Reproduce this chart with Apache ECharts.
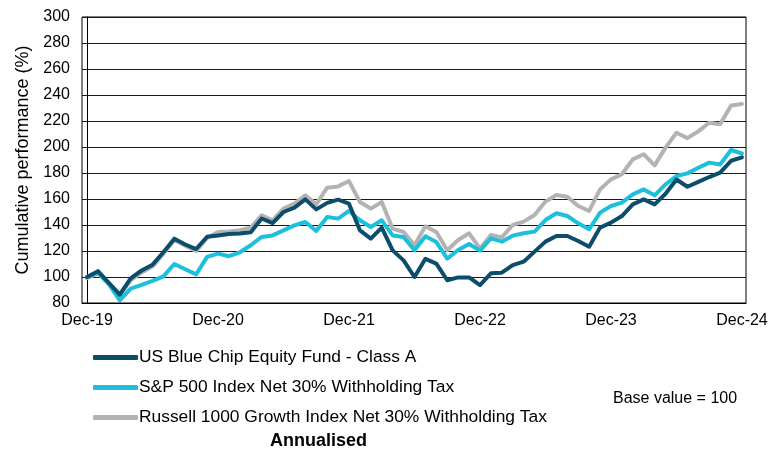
<!DOCTYPE html>
<html>
<head>
<meta charset="utf-8">
<script src="https://cdn.jsdelivr.net/npm/echarts@6/dist/echarts.min.js"></script>
<style>html,body{margin:0;padding:0;background:#fff;}#c{width:777px;height:452px;}</style>
</head>
<body>
<div id="c"></div>
<script>
const months = ["Dec-19","Jan-20","Feb-20","Mar-20","Apr-20","May-20","Jun-20","Jul-20","Aug-20","Sep-20","Oct-20","Nov-20",
"Dec-20","Jan-21","Feb-21","Mar-21","Apr-21","May-21","Jun-21","Jul-21","Aug-21","Sep-21","Oct-21","Nov-21",
"Dec-21","Jan-22","Feb-22","Mar-22","Apr-22","May-22","Jun-22","Jul-22","Aug-22","Sep-22","Oct-22","Nov-22",
"Dec-22","Jan-23","Feb-23","Mar-23","Apr-23","May-23","Jun-23","Jul-23","Aug-23","Sep-23","Oct-23","Nov-23",
"Dec-23","Jan-24","Feb-24","Mar-24","Apr-24","May-24","Jun-24","Jul-24","Aug-24","Sep-24","Oct-24","Nov-24","Dec-24"];
const xTickIndices = [0, 12, 24, 36, 48, 60];
const yTicks = { min: 80, max: 300, step: 20 };

const fundName = "US Blue Chip Equity Fund - Class A";
const spName = "S&P 500 Index Net 30% Withholding Tax";
const rgName = "Russell 1000 Growth Index Net 30% Withholding Tax";

const fundValues = [100,104.5,95.5,86.5,99,105,109.5,119,129.5,125,121.5,131,
132,133,133.5,134.5,145,141.5,150,153.3,159.7,152,157,159.5,
156.4,135.9,129.5,138,120.5,112.8,100,114,110.3,97.5,99.7,99.7,
93.8,102.8,103.3,109.2,111.8,119.5,127.2,131.5,131.5,127.7,123.3,138,
141.8,146.9,155.9,159.7,155.9,164,175,169.4,173.2,176.9,180.3,189.4,192];

const spValues = [100,103,94.5,82,91,94,97,100.5,110,106,102,115.5,
118,116,119,124.4,130.8,132,135.9,139.7,142.3,135.4,146.2,144.9,
150.8,143.6,138.5,143.6,132,130.8,120.5,131.3,126.9,114.1,120.8,125.4,
120.3,129.7,127.2,131.8,133.6,134.9,143.8,149,146.9,141.3,136.7,149.5,
154.6,157.2,163.6,167.4,162.8,171.3,177.7,179.7,184,188,186.5,197.7,195];

const rgValues = [99,103,95,86,97.5,103.5,108,118,128.5,124,120,130,
134.6,135,136,138,147.4,143.6,152.6,156.4,162.8,155.9,168.7,169.7,
173.8,157.7,152.6,157.7,137.2,134.6,124.4,139,134.6,120.6,128.5,133.6,
122,132.3,130.5,140,142.6,147.7,158,163.1,161.8,154.6,150.8,167.4,
175.1,179,190.5,194.4,185.9,199.5,211,206.8,212,218.7,217.5,232,233];

const FONT = "'Liberation Sans', Arial, sans-serif";
const toPairs = arr => arr.map((v, i) => [i, v]);

const chart = echarts.init(document.getElementById('c'), null, { renderer: 'canvas' });
const lineSeries = (name, data, color, z) => ({
  name, type: 'line', data: toPairs(data), showSymbol: false, symbol: 'none', z,
  lineStyle: { color, width: 4, cap: 'round', join: 'round' }, itemStyle: { color },
  animation: false
});

chart.setOption({
  animation: false,
  backgroundColor: '#fff',
  textStyle: { fontFamily: FONT },
  grid: { left: 82, right: 31, top: 17, bottom: 149, show: true, borderColor: '#000', borderWidth: 1, backgroundColor: 'transparent' },
  xAxis: {
    type: 'value', min: -0.46, max: 60.37,
    axisLine: { show: true, lineStyle: { color: '#000', width: 1 } },
    axisTick: { show: false },
    splitLine: { show: false },
    axisLabel: { customValues: xTickIndices, formatter: v => months[v] || '', color: '#000', fontSize: 16, fontFamily: FONT, margin: 10 }
  },
  yAxis: {
    type: 'value', min: yTicks.min, max: yTicks.max, interval: yTicks.step,
    name: 'Cumulative performance (%)', nameLocation: 'middle', nameGap: 50,
    nameTextStyle: { color: '#000', fontSize: 18, fontFamily: FONT },
    axisLine: { show: true, lineStyle: { color: '#000', width: 1 } },
    axisTick: { show: false },
    splitLine: { show: true, lineStyle: { color: '#1a1a1a', width: 1 } },
    axisLabel: { color: '#000', fontSize: 16, fontFamily: FONT, margin: 12 }
  },
  legend: {
    orient: 'vertical', left: 88, top: 344, itemGap: 13, itemWidth: 45, itemHeight: 5,
    icon: 'roundRect',
    data: [fundName, spName, rgName],
    textStyle: { color: '#000', fontSize: 17.4, fontFamily: FONT, padding: [0,0,0,-4] }
  },
  series: [
    lineSeries(rgName, rgValues, '#b3b3b3', 2),
    lineSeries(spName, spValues, '#1cc0dc', 3),
    lineSeries(fundName, fundValues, '#0d4d6c', 4)
  ],
  graphic: [
    { type: 'text', left: 613, top: 391, style: { text: 'Base value = 100', fill: '#000', font: "16px 'Liberation Sans', Arial, sans-serif" } },
    { type: 'text', left: 270, top: 432, style: { text: 'Annualised', fill: '#000', font: "bold 18px 'Liberation Sans', Arial, sans-serif" } }
  ]
});
</script>
</body>
</html>
